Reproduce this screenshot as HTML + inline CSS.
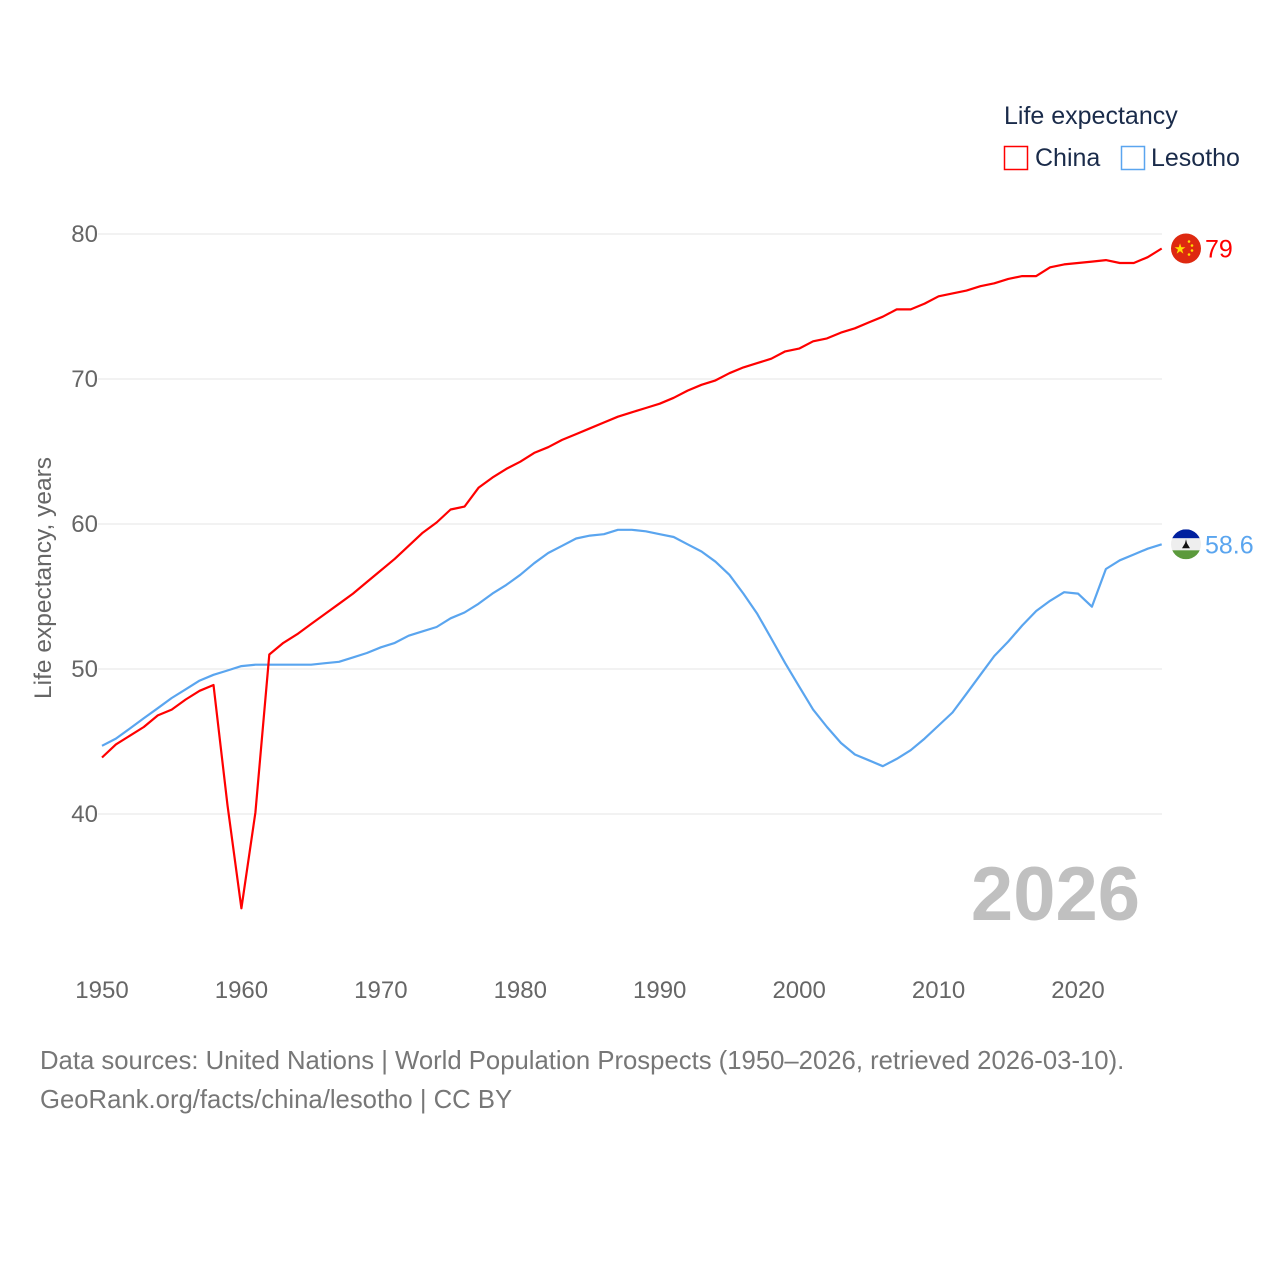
<!DOCTYPE html>
<html><head><meta charset="utf-8"><style>
html,body{margin:0;padding:0;background:#fff;}
svg{display:block;font-family:"Liberation Sans",sans-serif;}
</style></head><body>
<svg id="chart" width="1280" height="1280" viewBox="0 0 1280 1280" xmlns="http://www.w3.org/2000/svg">
<g id="grid"></g>
<g id="xticks"></g>
<g id="yticks"></g>
<text transform="translate(51,578) rotate(-90)" text-anchor="middle" font-size="24.5" fill="#666">Life expectancy, years</text>
<text x="1140" y="920" text-anchor="end" font-size="76" font-weight="bold" fill="#c0c0c0">2026</text>
<g id="series"></g>
<g>
<text x="1004" y="124" font-size="25" fill="#1a2b4a">Life expectancy</text>
<rect x="1004.5" y="146.5" width="23" height="23" fill="none" stroke="#ff0000" stroke-width="1.5"/>
<text x="1035" y="166" font-size="25" fill="#1a2b4a">China</text>
<rect x="1121.5" y="146.5" width="23" height="23" fill="none" stroke="#5aa5ef" stroke-width="1.5"/>
<text x="1151" y="166" font-size="25" fill="#1a2b4a">Lesotho</text>
</g>
<text x="40" y="1069" font-size="25.7" fill="#777">Data sources: United Nations | World Population Prospects (1950–2026, retrieved 2026-03-10).</text>
<text x="40" y="1108" font-size="25.7" fill="#777">GeoRank.org/facts/china/lesotho | CC BY</text>
</svg>
<script>
const years=[];for(let y=1950;y<=2026;y++)years.push(y);
const china=[43.9,44.8,45.4,46.0,46.8,47.2,47.9,48.5,48.9,40.6,33.5,40.1,51.0,51.8,52.4,53.1,53.8,54.5,55.2,56.0,56.8,57.6,58.5,59.4,60.1,61.0,61.2,62.5,63.2,63.8,64.3,64.9,65.3,65.8,66.2,66.6,67.0,67.4,67.7,68.0,68.3,68.7,69.2,69.6,69.9,70.4,70.8,71.1,71.4,71.9,72.1,72.6,72.8,73.2,73.5,73.9,74.3,74.8,74.8,75.2,75.7,75.9,76.1,76.4,76.6,76.9,77.1,77.1,77.7,77.9,78.0,78.1,78.2,78.0,78.0,78.4,79.0];
const lesotho=[44.7,45.2,45.9,46.6,47.3,48.0,48.6,49.2,49.6,49.9,50.2,50.3,50.3,50.3,50.3,50.3,50.4,50.5,50.8,51.1,51.5,51.8,52.3,52.6,52.9,53.5,53.9,54.5,55.2,55.8,56.5,57.3,58.0,58.5,59.0,59.2,59.3,59.6,59.6,59.5,59.3,59.1,58.6,58.1,57.4,56.5,55.2,53.8,52.1,50.4,48.8,47.2,46.0,44.9,44.1,43.7,43.3,43.8,44.4,45.2,46.1,47.0,48.3,49.6,50.9,51.9,53.0,54.0,54.7,55.3,55.2,54.3,56.9,57.5,57.9,58.3,58.6];
const yTicks=[40,50,60,70,80];
const xTicks=[1950,1960,1970,1980,1990,2000,2010,2020];
const NS="http://www.w3.org/2000/svg";
const x=v=>102+(v-1950)*(1078-102)/70;
const y=v=>814-(v-40)*14.5;
function el(t,a,p){const e=document.createElementNS(NS,t);for(const k in a)e.setAttribute(k,a[k]);p.appendChild(e);return e;}
const grid=document.getElementById('grid'),yt=document.getElementById('yticks'),xt=document.getElementById('xticks'),ser=document.getElementById('series');
yTicks.forEach(t=>{
 const l=el('line',{x1:98,x2:1162,y1:y(t),y2:y(t),stroke:'#e6e6e6','stroke-width':1},grid);
 
 
 const tx=el('text',{x:98,y:y(t)+8,'text-anchor':'end','font-size':24,fill:'#666'},yt);tx.textContent=t;
 
 
});
xTicks.forEach(t=>{
 const tx=el('text',{x:x(t),y:998,'text-anchor':'middle','font-size':24,fill:'#666'},xt);tx.textContent=t;
 
 
});
function line(d,c,name){
 const p=el('path',{d:d.map((v,i)=>(i?'L':'M')+x(years[i]).toFixed(1)+','+y(v).toFixed(1)).join(''),fill:'none',stroke:c,'stroke-width':2.2,'stroke-linejoin':'round'},ser);
 
 
}
line(lesotho,'#5aa5ef','lesotho-line');
line(china,'#ff0000','china-line');
const cy=y(china[china.length-1]),ly=y(lesotho[lesotho.length-1]),fx=1186;
const cg=el('g',{},ser);


el('circle',{cx:fx,cy:cy,r:15,fill:'#de2910'},cg);
el('text',{x:fx-6,y:cy+5,'text-anchor':'middle','font-size':14,fill:'#ffde00'},cg).textContent='★';
[[3,-7],[6,-3],[6,2],[3,6]].forEach(o=>el('circle',{cx:fx+o[0],cy:cy+o[1],r:1.3,fill:'#ffde00'},cg));
const ct=el('text',{x:1205,y:cy+9,'font-size':25,fill:'#ff0000'},ser);ct.textContent='79';


const lg=el('g',{},ser);


el('clipPath',{id:'lc'},lg);
el('circle',{cx:fx,cy:ly,r:15},lg.lastChild);
const lgc=el('g',{'clip-path':'url(#lc)'},lg);
el('rect',{x:fx-15,y:ly-15,width:30,height:9,fill:'#00209f'},lgc);
el('rect',{x:fx-15,y:ly-6,width:30,height:12,fill:'#eeeeee'},lgc);
el('rect',{x:fx-15,y:ly+6,width:30,height:9,fill:'#5b9a3c'},lgc);
el('path',{d:`M${fx-4},${ly+4}L${fx+4},${ly+4}L${fx+1},${ly-1}L${fx},${ly-5}L${fx-1},${ly-1}Z`,fill:'#111'},lgc);
const lt=el('text',{x:1205,y:ly+9,'font-size':25,fill:'#5aa5ef'},ser);lt.textContent='58.6';


</script>
</body></html>
